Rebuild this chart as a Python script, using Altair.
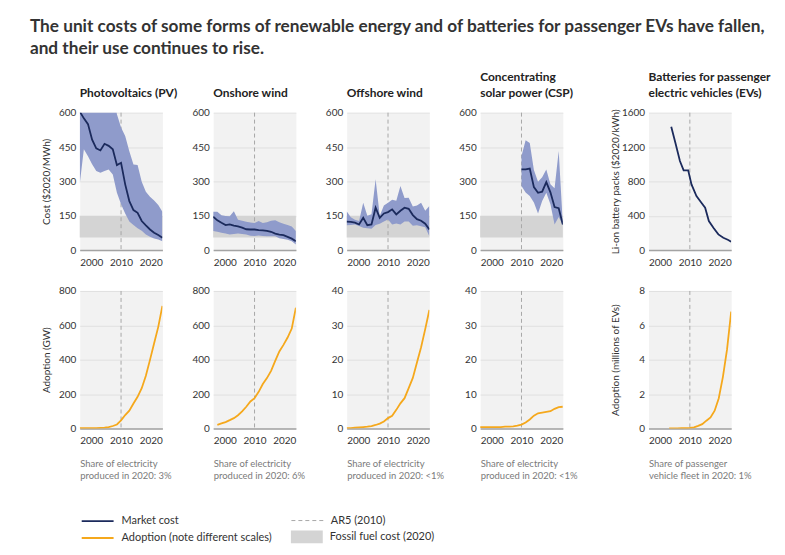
import altair as alt
import pandas as pd

# ---------------- data ----------------
YEARS = list(range(2000, 2021))
CSP_YEARS = list(range(2010, 2021))
ON_ADOPT_YEARS = list(range(2001, 2021))
EV_YEARS = list(range(2005, 2021))
BATT_YEARS = [2005.5, 2006.5, 2007.6, 2008.5, 2009.6, 2010.4, 2011.6, 2012.8,
              2013.7, 2014.6, 2015.7, 2016.9, 2018.1, 2019.3, 2020.0]

# cost, $2020/MWh : market cost, band low, band high
pv_cost = [605, 575, 550, 482, 444, 435, 464, 455, 440, 371, 381, 287, 214, 175, 163, 127, 108, 90, 76, 66, 54]
pv_hi = [700, 700, 700, 700, 700, 700, 700, 700, 700, 593, 535, 498, 432, 374, 371, 298, 255, 233, 217, 197, 167]
pv_lo = [287, 440, 410, 375, 345, 338, 345, 352, 330, 250, 200, 160, 125, 110, 95, 85, 68, 58, 51, 46, 39]

on_cost = [146, 130, 119, 109, 112, 107, 104, 98, 91, 90, 90, 87, 86, 84, 80, 72, 68, 65, 58, 50, 39]
on_hi = [167, 167, 152, 149, 148, 170, 133, 128, 124, 120, 118, 127, 118, 122, 128, 130, 122, 115, 110, 103, 83]
on_lo = [83, 80, 76, 72, 68, 70, 73, 70, 68, 63, 62, 64, 62, 61, 61, 60, 52, 48, 45, 39, 25]

off_cost = [124, 123, 120, 112, 141, 109, 112, 185, 141, 160, 166, 178, 156, 172, 185, 180, 153, 135, 128, 115, 90]
off_hi = [170, 143, 132, 127, 207, 150, 156, 309, 150, 195, 207, 220, 216, 280, 228, 229, 190, 195, 207, 172, 192]
off_lo = [109, 110, 112, 105, 98, 95, 93, 110, 115, 125, 134, 112, 116, 112, 125, 125, 106, 108, 104, 100, 61]

csp_cost = [352, 352, 356, 275, 250, 255, 297, 252, 188, 183, 112]
csp_hi = [411, 480, 468, 350, 298, 318, 352, 288, 270, 433, 115]
csp_lo = [280, 252, 236, 208, 160, 214, 250, 200, 112, 145, 110]

batt_cost = [1437, 1250, 1037, 928, 928, 765, 629, 551, 493, 338, 260, 183, 144, 118, 97]

# adoption
pv_adopt = [1, 1, 1, 2, 2, 3, 4, 8, 14, 23, 47, 78, 103, 145, 184, 234, 306, 399, 496, 591, 713]
on_adopt = [21, 29, 37, 48, 60, 77, 99, 126, 157, 176, 213, 258, 293, 335, 393, 448, 486, 529, 581, 703]
off_adopt = [0.1, 0.1, 0.2, 0.3, 0.4, 0.5, 0.7, 1.0, 1.4, 2.0, 3.0, 3.7, 5.4, 7.3, 8.8, 11.7, 14.7, 19.2, 23.6, 28.9, 34.5]
csp_adopt = [0.4, 0.4, 0.4, 0.4, 0.4, 0.4, 0.5, 0.5, 0.6, 0.8, 1.1, 1.7, 2.6, 3.7, 4.4, 4.6, 4.8, 5.0, 5.7, 6.2, 6.3]
ev_adopt = [0, 0, 0, 0.01, 0.01, 0.03, 0.06, 0.15, 0.25, 0.45, 0.64, 1.03, 1.76, 3.0, 4.6, 6.8]

FOSSIL_RANGE = [55, 150]
AR5_YEAR = 2010
XDOM = [2000, 2020]
XTICKS = [2000, 2010, 2020]
COST_TICKS = [0, 150, 300, 450, 600]
BATT_TICKS = [0, 400, 800, 1200, 1600]
GW_TICKS = [0, 200, 400, 600, 800]
SMALL_TICKS = [0, 10, 20, 30, 40]
EV_TICKS = [0, 2, 4, 6, 8]

TITLE = ["The unit costs of some forms of renewable energy and of batteries for passenger EVs have fallen,",
         "and their use continues to rise."]
PANEL_TITLES = [["Photovoltaics (PV)"], ["Onshore wind"], ["Offshore wind"],
                ["Concentrating", "solar power (CSP)"],
                ["Batteries for passenger", "electric vehicles (EVs)"]]
NOTES = [["Share of electricity", "produced in 2020: 3%"],
         ["Share of electricity", "produced in 2020: 6%"],
         ["Share of electricity", "produced in 2020: <1%"],
         ["Share of electricity", "produced in 2020: <1%"],
         ["Share of passenger", "vehicle fleet in 2020: 1%"]]
LBL_COST = "Market cost"
LBL_ADOPT = "Adoption (note different scales)"
LBL_AR5 = "AR5 (2010)"
LBL_FOSSIL = "Fossil fuel cost (2020)"

# ---------------- style ----------------
FONT = "Lato"
NAVY = "#1b2a5c"
BAND = "#8f9bcb"
ORANGE = "#f5a81c"
FOSSIL = "#d4d4d4"
BG = "#f2f2f2"
AR5_COLOR = "#a8a8a8"
W, H = 83, 138


def xscale():
    return alt.Scale(domain=XDOM, nice=False, zero=False)


def x_enc(field, note=None):
    kw = dict(values=XTICKS, format="d", labelFlush=True, ticks=False, tickSize=0,
              grid=False, domain=True, domainColor="#a3a3a3", domainWidth=1.5,
              labelPadding=7)
    if note:
        kw.update(titleAnchor="start", titleAlign="left", titleBaseline="top",
                  titleFontSize=9.5, titleFontWeight="normal", titleColor="#7a7a7a",
                  titlePadding=13, titleLineHeight=12)
        return alt.X(f"{field}:Q", title=note, scale=xscale(), axis=alt.Axis(**kw))
    return alt.X(f"{field}:Q", title=None, scale=xscale(), axis=alt.Axis(**kw))


def y_enc(field, ymax, ticks, ytitle=None):
    axis = alt.Axis(values=ticks, format="d", domain=False, ticks=False, tickSize=0,
                    labelPadding=4, grid=True, gridColor="#e0e0e0", minExtent=24,
                    maxExtent=24, titlePadding=4, titleFontSize=10,
                    titleFontWeight="normal", titleColor="#333333")
    scale = alt.Scale(domain=[0, ymax], nice=False, zero=True)
    if ytitle:
        return alt.Y(f"{field}:Q", title=ytitle, scale=scale, axis=axis)
    return alt.Y(f"{field}:Q", title=None, scale=scale, axis=axis)


LEG_COMMON = dict(orient="none", title=None, symbolSize=1024, labelOffset=7,
                  labelFontSize=11, labelColor="#333333", labelFont=FONT, padding=0)

leg_cost = alt.Legend(legendX=1, legendY=393, symbolType="stroke", symbolStrokeWidth=1.8, **LEG_COMMON)
leg_adopt = alt.Legend(legendX=1, legendY=410, symbolType="stroke", symbolStrokeWidth=1.8, **LEG_COMMON)
leg_ar5 = alt.Legend(legendX=212, legendY=393, symbolType="stroke", symbolStrokeWidth=1,
                     symbolStrokeColor=AR5_COLOR, **LEG_COMMON)
leg_fossil = alt.Legend(legendX=212, legendY=410, symbolType="M-1,-0.4H1V0.4H-1Z",
                        symbolStrokeWidth=0, **LEG_COMMON)


def common_layers(ymax, ticks, ytitle, note, fossil):
    layers = []
    if fossil:
        fdf = pd.DataFrame({"x0": [XDOM[0]], "x1": [XDOM[1]], "lo": [FOSSIL_RANGE[0]],
                            "hi": [FOSSIL_RANGE[1]], "label": [LBL_FOSSIL]})
        layers.append(alt.Chart(fdf).mark_rect().encode(
            x=x_enc("x0", note), x2="x1",
            y=y_enc("lo", ymax, ticks, ytitle), y2="hi",
            fill=alt.Fill("label:N", scale=alt.Scale(domain=[LBL_FOSSIL], range=[FOSSIL]),
                          legend=leg_fossil)))
    rdf = pd.DataFrame({"year": [AR5_YEAR], "label": [LBL_AR5]})
    layers.append(alt.Chart(rdf).mark_rule(color=AR5_COLOR, strokeWidth=1).encode(
        x=x_enc("year", note),
        strokeDash=alt.StrokeDash("label:N", scale=alt.Scale(domain=[LBL_AR5], range=[[4, 3]]),
                                  legend=leg_ar5)))
    return layers


def panel_props(chart, title_lines):
    return chart.properties(
        width=W, height=H,
        view=alt.ViewBackground(fill=BG, stroke="transparent"),
        title=alt.TitleParams(text=title_lines, anchor="start", frame="group", fontSize=12,
                              font=FONT, fontWeight="bold", color="#222222", offset=8,
                              lineHeight=16))


def cost_panel(title_lines, years, mid, lo, hi, ymax, ticks, ytitle=None, fossil=True):
    layers = common_layers(ymax, ticks, ytitle, None, fossil)
    df = pd.DataFrame({"year": years, "mid": mid, "series": LBL_COST})
    if lo is not None:
        bdf = pd.DataFrame({"year": years, "lo": lo, "hi": hi})
        layers.append(alt.Chart(bdf).mark_area(color=BAND, clip=True).encode(
            x=x_enc("year"), y=y_enc("lo", ymax, ticks, ytitle), y2="hi"))
    layers.append(alt.Chart(df).mark_line(strokeWidth=1.8, clip=True).encode(
        x=x_enc("year"), y=y_enc("mid", ymax, ticks, ytitle),
        stroke=alt.Stroke("series:N", scale=alt.Scale(domain=[LBL_COST], range=[NAVY]),
                          legend=leg_cost)))
    return panel_props(alt.layer(*layers), title_lines)


def adopt_panel(years, vals, ymax, ticks, note, ytitle=None):
    layers = common_layers(ymax, ticks, ytitle, note, False)
    df = pd.DataFrame({"year": years, "val": vals, "series": LBL_ADOPT})
    layers.append(alt.Chart(df).mark_line(strokeWidth=1.8, clip=True).encode(
        x=x_enc("year", note), y=y_enc("val", ymax, ticks, ytitle),
        color=alt.Color("series:N", scale=alt.Scale(domain=[LBL_ADOPT], range=[ORANGE]),
                        legend=leg_adopt)))
    return alt.layer(*layers).properties(
        width=W, height=H, view=alt.ViewBackground(fill=BG, stroke="transparent"))


def spacer(w):
    return alt.Chart(pd.DataFrame({"s": [0]})).mark_point(opacity=0, size=0).encode(
        x=alt.value(0), y=alt.value(0)).properties(width=w, height=H)


top = [
    cost_panel(PANEL_TITLES[0], YEARS, pv_cost, pv_lo, pv_hi, 600, COST_TICKS, "Cost ($2020/MWh)"),
    spacer(51),
    cost_panel(PANEL_TITLES[1], YEARS, on_cost, on_lo, on_hi, 600, COST_TICKS),
    spacer(51),
    cost_panel(PANEL_TITLES[2], YEARS, off_cost, off_lo, off_hi, 600, COST_TICKS),
    spacer(51),
    cost_panel(PANEL_TITLES[3], CSP_YEARS, csp_cost, csp_lo, csp_hi, 600, COST_TICKS),
    spacer(86),
    cost_panel(PANEL_TITLES[4], BATT_YEARS, batt_cost, None, None, 1600, BATT_TICKS,
               "Li-on battery packs ($2020/kWh)", fossil=False),
]
bottom = [
    adopt_panel(YEARS, pv_adopt, 800, GW_TICKS, NOTES[0], "Adoption (GW)"),
    spacer(51),
    adopt_panel(ON_ADOPT_YEARS, on_adopt, 800, GW_TICKS, NOTES[1]),
    spacer(51),
    adopt_panel(YEARS, off_adopt, 40, SMALL_TICKS, NOTES[2]),
    spacer(51),
    adopt_panel(YEARS, csp_adopt, 40, SMALL_TICKS, NOTES[3]),
    spacer(86),
    adopt_panel(EV_YEARS, ev_adopt, 8, EV_TICKS, NOTES[4], "Adoption (millions of EVs)"),
]

chart = alt.concat(
    *(top + bottom), columns=9, spacing={"row": 41, "column": 0},
    bounds="flush", align="each", center=False,
    title=alt.TitleParams(text=TITLE, anchor="start", frame="group", dx=-50, fontSize=17.3,
                          font=FONT, fontWeight="bold", color="#333333", lineHeight=22,
                          offset=13),
).resolve_scale(
    x="independent", y="independent", color="shared", stroke="shared",
    strokeDash="shared", fill="shared"
).properties(
    padding={"left": 22, "top": 9, "right": 5, "bottom": 5}
).configure(
    font=FONT
).configure_view(
    stroke="transparent"
).configure_axis(
    labelFont=FONT, labelFontSize=10, labelColor="#333333", titleFont=FONT
)

chart.save("out.html", embed_options={"renderer": "svg", "actions": False})
